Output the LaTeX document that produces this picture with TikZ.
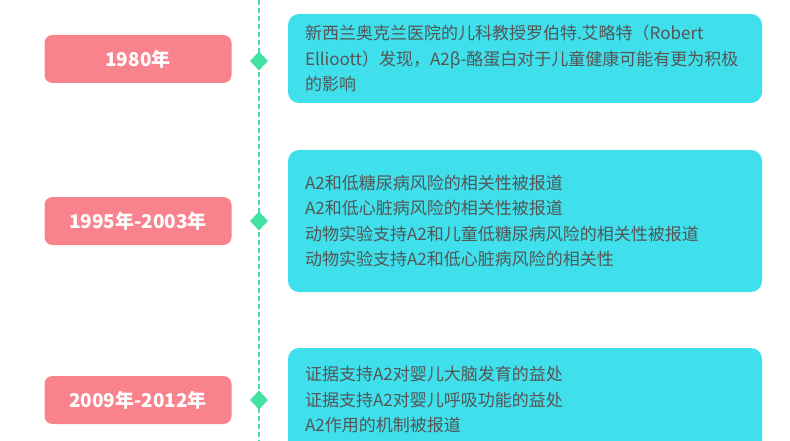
\documentclass[tikz,border=0pt]{standalone}
\usepackage{fontspec}
\setmainfont{Noto Sans CJK SC}
\usetikzlibrary{positioning}
\usetikzlibrary{shapes.geometric}
\definecolor{yearpink}{HTML}{F9838D}
\definecolor{infocyan}{HTML}{3FE0EC}
\definecolor{linegreen}{HTML}{41E3A2}
\definecolor{infotext}{HTML}{555555}

\begin{document}
\begin{tikzpicture}[x=1pt,y=-1pt,
yearbox/.style={shape=rectangle,rounded corners=8pt,fill=yearpink,text=white,font=\fontsize{19}{23}\selectfont\bfseries,minimum width=187pt,minimum height=48pt},
infobox/.style={shape=rectangle,rounded corners=11pt,fill=infocyan,text=infotext,font=\fontsize{17}{25.5}\selectfont,text width=440pt,inner xsep=17pt,inner ysep=0pt,align=left},
dotmark/.style={shape=diamond,fill=linegreen,inner sep=0pt,minimum width=18pt,minimum height=19pt}]
\useasboundingbox (0,0) rectangle (790,441);
\clip (0,0) rectangle (790,441);
\fill [white](0,0) rectangle (790,441);
\coordinate (lineTop) at (259,0);
\coordinate (lineBot) at (259,441);
\draw [linegreen,line width=2pt,dash pattern=on 5pt off 3pt](lineTop) --(lineBot);
\path
(138,59) node [yearbox](yearA) {1980年}
(138,221) node [yearbox](yearB) {1995年-2003年}
(138,400) node [yearbox](yearC) {2009年-2012年}
(259,61) node [dotmark](dotA) {}
(259,221) node [dotmark](dotB) {}
(259,400) node [dotmark](dotC) {};
\path
(525,58.5) node [infobox,minimum height=89pt](infoA) {新西兰奥克兰医院的儿科教授罗伯特.艾略特（Robert\\Ellioott）发现，A2β-酪蛋白对于儿童健康可能有更为积极\\的影响}
(525,221) node [infobox,minimum height=142pt](infoB) {A2和低糖尿病风险的相关性被报道\\A2和低心脏病风险的相关性被报道\\动物实验支持A2和儿童低糖尿病风险的相关性被报道\\动物实验支持A2和低心脏病风险的相关性}
(525,400) node [infobox,minimum height=104pt](infoC) {证据支持A2对婴儿大脑发育的益处\\证据支持A2对婴儿呼吸功能的益处\\A2作用的机制被报道};

\end{tikzpicture}
\end{document}
